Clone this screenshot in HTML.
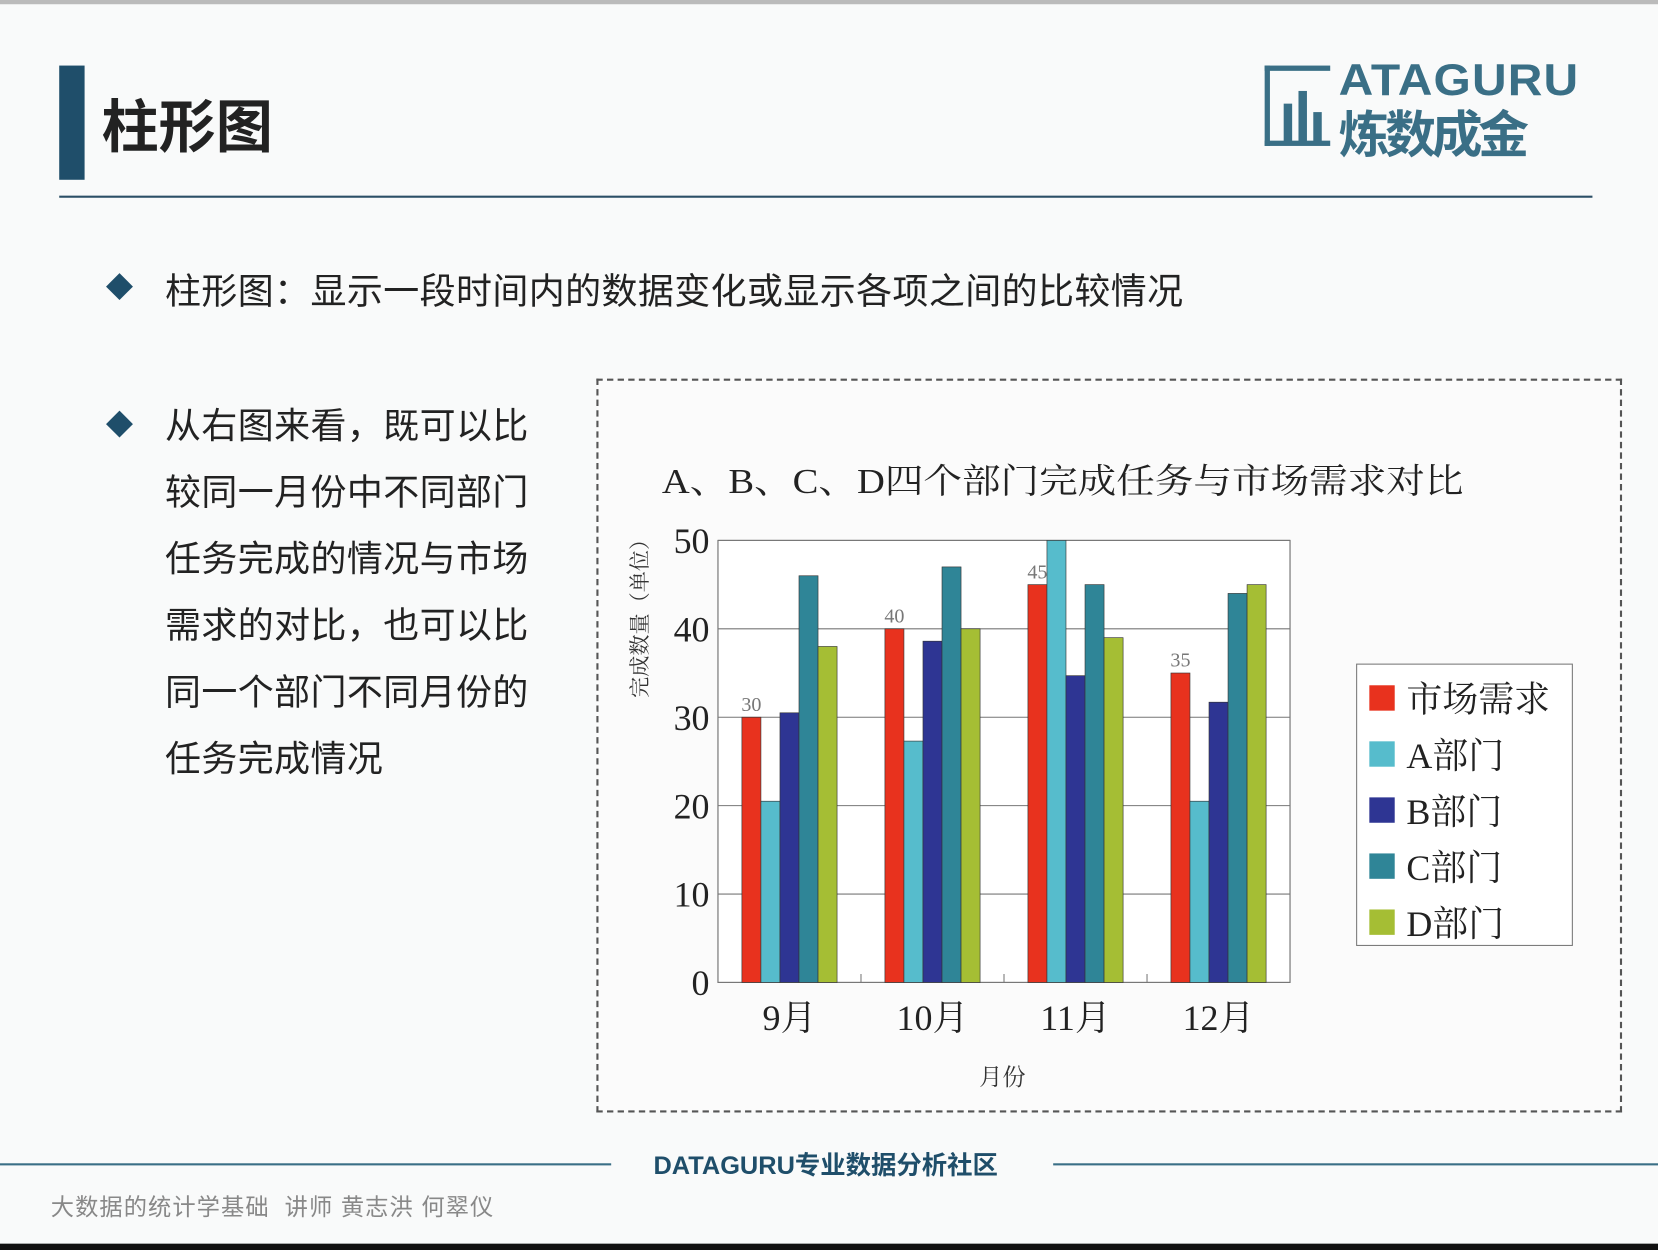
<!DOCTYPE html>
<html><head><meta charset="utf-8">
<style>
html,body{margin:0;padding:0;width:1658px;height:1250px;overflow:hidden;background:#fff;}
#wrap{position:absolute;left:0;top:0;width:1568px;height:1182px;transform:scale(1.05740,1.05753);transform-origin:0 0;background:#f9fafa;font-family:"Liberation Sans","Noto Sans CJK SC",sans-serif;}
.abs{position:absolute;}
</style></head><body>
<div id="wrap">
  <div class="abs" style="left:0;top:0;width:1568px;height:4px;background:#bbb"></div>
  <div class="abs" style="left:56px;top:62px;width:24px;height:108px;background:#1f4e6a"></div>
  <div class="abs" style="left:96px;top:76px;font-size:54px;font-weight:bold;color:#222">柱形图</div>
  <div class="abs" style="left:1196px;top:58px;width:310px;height:82px">
    <div class="abs" style="left:0;top:4px;width:62px;height:76px;border:5px solid #3a6f86;box-sizing:border-box;border-right:none"></div>
    <div class="abs" style="left:18px;top:40px;width:8px;height:36px;background:#3a6f86"></div>
    <div class="abs" style="left:32px;top:28px;width:8px;height:48px;background:#3a6f86"></div>
    <div class="abs" style="left:46px;top:48px;width:8px;height:28px;background:#3a6f86"></div>
    <div class="abs" style="left:70px;top:-6px;font-size:42px;font-weight:bold;color:#3a6f86;letter-spacing:1px;transform:scaleX(1.08);transform-origin:0 0">ATAGURU</div>
    <div class="abs" style="left:70px;top:30px;font-size:48px;font-weight:bold;color:#3a6f86;letter-spacing:-4px">炼数成金</div>
  </div>
  <div class="abs" style="left:56px;top:185px;width:1450px;height:2px;background:#2c4f66"></div>

  <div class="abs" style="left:104px;top:262px;width:18px;height:18px;background:#1f4e6a;transform:rotate(45deg)"></div>
  <div class="abs" style="left:156px;top:248px;font-size:34px;letter-spacing:0.4px;color:#222">柱形图：显示一段时间内的数据变化或显示各项之间的比较情况</div>
  <div class="abs" style="left:104px;top:392px;width:18px;height:18px;background:#1f4e6a;transform:rotate(45deg)"></div>
  <div class="abs" style="left:156px;top:372px;width:360px;font-size:34px;line-height:63px;color:#222;letter-spacing:0.4px">从右图来看，既可以比较同一月份中不同部门任务完成的情况与市场需求的对比，也可以比同一个部门不同月份的任务完成情况</div>

  <div class="abs" style="left:564px;top:358px;width:966px;height:690px;border:2px dashed #555;background:#fbfbfb"></div>
  <svg class="abs" style="left:0;top:0" width="1568" height="1182" id="chart">
    <text x="626" y="466" font-size="33" textLength="758" lengthAdjust="spacingAndGlyphs" fill="#222" font-family="Liberation Serif, Noto Serif CJK SC, serif">A、B、C、D四个部门完成任务与市场需求对比</text>
    <rect x="679" y="511" width="541" height="418" fill="#fff" stroke="#666"/>
    <g id="grid"></g><g id="bars"></g><g id="labels"></g>
    <text transform="translate(612,580) rotate(-90)" text-anchor="middle" font-size="20" fill="#333" font-family="Liberation Serif, Noto Serif CJK SC, serif">完成数量（单位）</text>
    <text x="948" y="1026" text-anchor="middle" font-size="22" fill="#333" font-family="Liberation Serif, Noto Serif CJK SC, serif">月份</text>
    <rect x="1283" y="628" width="204" height="266" fill="#fff" stroke="#777"/>
    <g id="legend"></g>
  </svg>

  <div class="abs" style="left:0;top:1100px;width:578px;height:2px;background:#3a6f86"></div>
  <div class="abs" style="left:996px;top:1100px;width:572px;height:2px;background:#3a6f86"></div>
  <div class="abs" style="left:618px;top:1082px;font-size:24px;font-weight:bold;color:#1f4e6a">DATAGURU专业数据分析社区</div>
  <div class="abs" style="left:48px;top:1124px;font-size:22px;color:#888;letter-spacing:1px">大数据的统计学基础 &nbsp;讲师 黄志洪 何翠仪</div>
  <div class="abs" style="left:0;top:1176px;width:1568px;height:6px;background:#111"></div>
</div>
<script>
const categories = ["9月","10月","11月","12月"];
const seriesNames = ["市场需求","A部门","B部门","C部门","D部门"];
const market = [30,40,45,35];
const deptA = [20.5,27.3,50,20.5];
const deptB = [30.5,38.6,34.7,31.7];
const deptC = [46,47,45,44];
const deptD = [38,40,39,45];
const yTicks = [0,10,20,30,40,50];
const colors = ["#e8321e","#56bccc","#2e3593","#2f8597","#a5be34"];
const series = [market,deptA,deptB,deptC,deptD];
const NS="http://www.w3.org/2000/svg";
const L=679,R=1220,T=511,B=929,YMAX=50;
const y=v=>B-(v/YMAX)*(B-T);
const catW=(R-L)/categories.length, bw=18;
const x=(ci,si)=>L+catW*(ci+0.5)-bw*series.length/2+si*bw;
function mk(tag,attrs,parent){const e=document.createElementNS(NS,tag);for(const k in attrs)e.setAttribute(k,attrs[k]);parent.appendChild(e);return e;}
const serifF="Liberation Serif, Noto Serif CJK SC, serif";
const grid=document.getElementById('grid');
yTicks.forEach(t=>{
  const ln=mk('line',{x1:L,x2:R,y1:y(t),y2:y(t),stroke:'#777','stroke-width':1},grid);
  
  
  const tx=mk('text',{x:L-8,y:y(t)+12,'text-anchor':'end','font-size':34,fill:'#222','font-family':serifF},grid);
  tx.textContent=t;
  
  
});
const bars=document.getElementById('bars');
categories.forEach((c,ci)=>{
  series.forEach((s,si)=>{
    const r=mk('rect',{x:x(ci,si),y:y(s[ci]),width:bw,height:B-y(s[ci]),fill:colors[si],stroke:'#333','stroke-width':0.6},bars);
    
    
  });
  const lb=mk('text',{x:L+catW*(ci+0.5),y:974,'text-anchor':'middle','font-size':34,fill:'#222','font-family':serifF},bars);
  lb.textContent=c;
  
  
  if(ci<categories.length-1){
    const tk=mk('line',{x1:L+catW*(ci+1),x2:L+catW*(ci+1),y1:B,y2:B-8,stroke:'#777'},bars);
    
    
  }
  const v=mk('text',{x:x(ci,0)+bw/2,y:y(market[ci])-6,'text-anchor':'middle','font-size':19,fill:'#777','font-family':serifF},bars);
  v.textContent=market[ci];
  
  
});
const lg=document.getElementById('legend');
seriesNames.forEach((n,i)=>{
  const yy=660+i*53;
  const r=mk('rect',{x:1295,y:yy-12,width:24,height:24,fill:colors[i]},lg);
  
  
  const t=mk('text',{x:1330,y:yy+13,'font-size':34,fill:'#222','font-family':serifF},lg);
  t.textContent=n;
  
  
});
</script>
</body></html>
